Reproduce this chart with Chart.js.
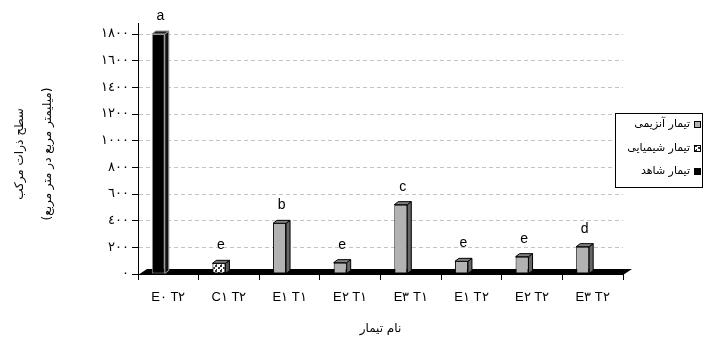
<!DOCTYPE html>
<html>
<head>
<meta charset="utf-8">
<script src="https://cdn.jsdelivr.net/npm/chart.js@4.4.1/dist/chart.umd.min.js"></script>
<style>
html,body{margin:0;padding:0;background:#fff;}
#wrap{width:703px;height:343px;position:relative;}
</style>
</head>
<body>
<div id="wrap"><canvas id="c" width="703" height="343"></canvas></div>
<script>
const categories = ['E٠ T٢', 'C١ T٢', 'E١ T١', 'E٢ T١', 'E٣ T١', 'E١ T٢', 'E٢ T٢', 'E٣ T٢'];
const enzymatic = [null, null, 380, 85, 520, 95, 130, 205];
const chemical  = [null, 80, null, null, null, null, null, null];
const control   = [1800, null, null, null, null, null, null, null];
const letters   = ['a', 'e', 'b', 'e', 'c', 'e', 'e', 'd'];
const seriesNames = ['تیمار آنزیمی', 'تیمار شیمیایی', 'تیمار شاهد'];
const yTitle = ['سطح ذرات مرکب', '(میلیمتر مربع در متر مربع)'];
const xTitle = 'نام تیمار';

const arabicDigits = '٠١٢٣٤٥٦٧٨٩';
const toArabic = s => String(s).replace(/[0-9]/g, d => arabicDigits[+d]);

// dotted pattern for chemical series
const pc = document.createElement('canvas');
pc.width = 5; pc.height = 5;
const px = pc.getContext('2d');
px.fillStyle = '#fff'; px.fillRect(0, 0, 5, 5);
px.fillStyle = '#333'; px.fillRect(0, 0, 2, 2); px.fillRect(3, 2, 2, 2); px.fillRect(1, 4, 1, 1);
const ctx0 = document.getElementById('c').getContext('2d');
const dotPattern = ctx0.createPattern(pc, 'repeat');

const GRAY = '#b2b2b2';
const seriesFill = [GRAY, dotPattern, '#000'];
const seriesBorder = ['#000', '#000', '#9a9a9a'];
const seriesSide = ['#666', '#555', '#111'];
const seriesTop = ['#808080', '#777', '#222'];

const DX = 4, DY = 3;

const plugin3d = {
  id: 'bars3d',
  beforeDatasetsDraw(chart) {
    const {ctx, chartArea: a} = chart;
    const y0 = chart.scales.y.getPixelForValue(0);
    ctx.save();
    ctx.fillStyle = '#000';
    ctx.beginPath();
    ctx.moveTo(a.left, y0 + 1);
    ctx.lineTo(a.right, y0 + 1);
    ctx.lineTo(a.right + 9, y0 - 5);
    ctx.lineTo(a.left + 9, y0 - 5);
    ctx.closePath();
    ctx.fill();
    ctx.restore();
  },
  afterDatasetsDraw(chart) {
    const {ctx} = chart;
    ctx.save();
    ctx.lineWidth = 1;
    for (let d = 0; d < 3; d++) {
      const meta = chart.getDatasetMeta(d);
      const data = chart.data.datasets[d].data;
      meta.data.forEach((bar, i) => {
        if (data[i] == null) return;
        const {x, y, base, width} = bar.getProps(['x', 'y', 'base', 'width'], true);
        const l = x - width / 2, r = x + width / 2;
        ctx.strokeStyle = d === 2 ? '#9a9a9a' : '#000';
        ctx.fillStyle = seriesSide[d];
        ctx.beginPath();
        ctx.moveTo(r, y); ctx.lineTo(r + DX, y - DY); ctx.lineTo(r + DX, base - DY); ctx.lineTo(r, base);
        ctx.closePath(); ctx.fill(); ctx.stroke();
        ctx.fillStyle = seriesTop[d];
        ctx.beginPath();
        ctx.moveTo(l, y); ctx.lineTo(l + DX, y - DY); ctx.lineTo(r + DX, y - DY); ctx.lineTo(r, y);
        ctx.closePath(); ctx.fill(); ctx.stroke();
      });
    }
    ctx.fillStyle = '#000';
    ctx.font = '14px "Liberation Sans", Arial, sans-serif';
    ctx.textAlign = 'center';
    ctx.textBaseline = 'middle';
    for (let i = 0; i < categories.length; i++) {
      for (let d = 0; d < 3; d++) {
        const data = chart.data.datasets[d].data;
        if (data[i] == null) continue;
        const bar = chart.getDatasetMeta(d).data[i];
        ctx.fillText(letters[i], bar.x + 2, bar.y - 18);
      }
    }
    ctx.restore();
  },
  afterDraw(chart) {
    const {ctx, chartArea: a} = chart;
    ctx.save();
    ctx.strokeStyle = '#000';
    ctx.lineWidth = 1;
    ctx.beginPath();
    ctx.moveTo(a.left + 0.5, a.top - 11);
    ctx.lineTo(a.left + 0.5, a.top);
    ctx.stroke();
    const bx = 615, by = 113, bw = 87, bh = 74;
    ctx.fillStyle = '#fff';
    ctx.fillRect(bx, by, bw, bh);
    ctx.strokeStyle = '#000';
    ctx.strokeRect(bx + 0.5, by + 0.5, bw, bh);
    const ys = [124, 148, 171];
    ctx.font = '11px "DejaVu Sans", sans-serif';
    ctx.textAlign = 'right';
    ctx.textBaseline = 'middle';
    for (let d = 0; d < 3; d++) {
      const ds = chart.data.datasets[d];
      ctx.fillStyle = seriesFill[d];
      ctx.fillRect(694, ys[d] - 3, 6, 6);
      ctx.strokeStyle = '#000';
      ctx.strokeRect(694.5, ys[d] - 2.5, 6, 6);
      ctx.fillStyle = '#000';
      ctx.fillText(ds.label, 690, ys[d]);
    }
    ctx.restore();
  }
};

new Chart(document.getElementById('c'), {
  type: 'bar',
  data: {
    labels: categories,
    datasets: [
      {label: seriesNames[0], data: enzymatic, stack: 'main', backgroundColor: seriesFill[0], borderColor: seriesBorder[0], borderWidth: 1, borderSkipped: false},
      {label: seriesNames[1], data: chemical, stack: 'main', backgroundColor: seriesFill[1], borderColor: seriesBorder[1], borderWidth: 1, borderSkipped: false},
      {label: seriesNames[2], data: control, stack: 'main', backgroundColor: seriesFill[2], borderColor: seriesBorder[2], borderWidth: 1, borderSkipped: false},
      {label: '', data: categories.map(() => 0), stack: 'spacer', backgroundColor: 'rgba(0,0,0,0)', borderWidth: 0}
    ]
  },
  options: {
    responsive: false,
    animation: false,
    categoryPercentage: 0.66,
    barPercentage: 0.65,
    layout: {padding: {top: 34, right: 80, left: 0, bottom: 0}},
    plugins: {legend: {display: false}, tooltip: {enabled: false}},
    scales: {
      x: {
        stacked: true,
        grid: {display: true, drawOnChartArea: false, tickLength: 6, color: '#000', offset: true},
        border: {color: '#000'},
        ticks: {color: '#000', font: {family: '"Liberation Sans", Arial, sans-serif', size: 13}, padding: 10, maxRotation: 0, autoSkip: false},
        title: {display: true, text: xTitle, color: '#000', font: {family: '"DejaVu Sans", sans-serif', size: 12}, padding: {top: 14, bottom: 7}},
        afterFit: s => { s.height = 69; }
      },
      y: {
        stacked: true,
        min: 0, max: 1800,
        grid: {color: '#c4c4c4', tickColor: '#000', tickLength: 6, tickBorderDash: []},
        border: {color: '#000', dash: [4, 3]},
        ticks: {stepSize: 200, color: '#000', font: {family: '"DejaVu Sans", sans-serif', size: 13}, padding: 3, callback: v => toArabic(v)},
        title: {display: true, text: yTitle, color: '#000', font: {family: '"DejaVu Sans", sans-serif', size: 12, lineHeight: 2.4}, padding: {top: 5, bottom: 0}},
        afterFit: s => { s.width = 138; }
      }
    }
  },
  plugins: [plugin3d]
});
</script>
</body>
</html>
